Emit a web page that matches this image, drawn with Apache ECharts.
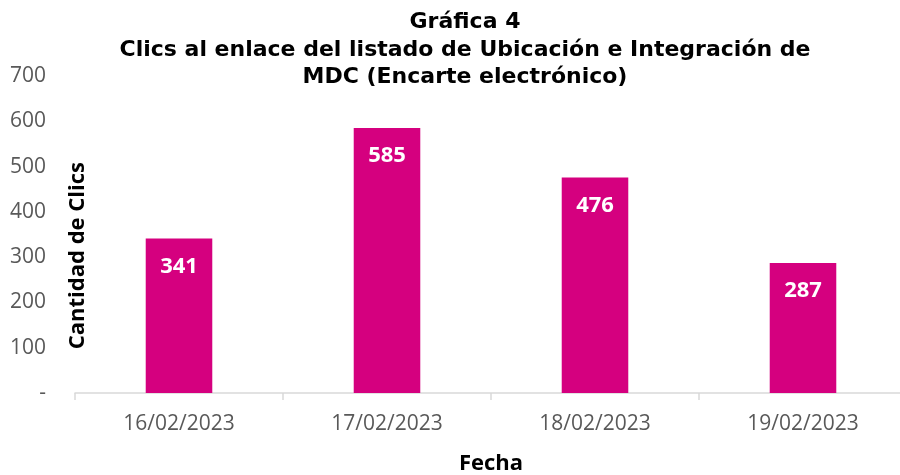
<!DOCTYPE html>
<html>
<head>
<meta charset="utf-8">
<script src="https://cdn.jsdelivr.net/npm/echarts@6/dist/echarts.min.js"></script>
<style>
  html, body { margin: 0; padding: 0; background: #fff; }
  #chart { width: 900px; height: 475px; }
</style>
</head>
<body>
<div id="chart"></div>
<script>
// datos de la gráfica
const fechas = ['16/02/2023', '17/02/2023', '18/02/2023', '19/02/2023'];
const clics = [341, 585, 476, 287];
const yTicks = [0, 100, 200, 300, 400, 500, 600, 700];

const chart = echarts.init(document.getElementById('chart'));

const option = {
  animation: false,
  title: {
    text: 'Gráfica 4\nClics al enlace del listado de Ubicación e Integración de\nMDC (Encarte electrónico)',
    left: 460,
    textAlign: 'center',
    top: 4,
    textStyle: {
      fontFamily: 'DejaVu Sans',
      fontWeight: 'bold',
      fontSize: 22,
      lineHeight: 27.5,
      color: '#000'
    }
  },
  grid: {
    left: 75,
    right: -7,
    top: 76,
    bottom: 82,
    outerBoundsMode: 'none'
  },
  xAxis: {
    type: 'category',
    data: fechas,
    name: 'Fecha',
    nameLocation: 'middle',
    nameGap: 60,
    nameTextStyle: {
      fontFamily: 'Open Sans',
      fontWeight: 'bold',
      fontSize: 22,
      color: '#000',
      verticalAlign: 'top'
    },
    axisLine: { lineStyle: { color: '#d9d9d9', width: 1.5 } },
    axisTick: { show: true, length: 7, lineStyle: { color: '#d9d9d9', width: 1.5 } },
    axisLabel: {
      margin: 21,
      fontFamily: 'Open Sans',
      fontSize: 21,
      color: '#595959'
    }
  },
  yAxis: {
    type: 'value',
    min: yTicks[0],
    max: yTicks[yTicks.length - 1],
    interval: 100,
    axisLine: { show: false },
    axisTick: { show: false },
    splitLine: { show: false },
    axisLabel: {
      margin: 29,
      fontFamily: 'Open Sans',
      fontSize: 21,
      color: '#595959',
      formatter: v => (v === 0 ? '-' : String(v))
    }
  },
  graphic: [{
    type: 'text',
    left: 67,
    top: 162,
    rotation: Math.PI / 2,
    style: {
      text: 'Cantidad de Clics',
      font: 'bold 22px "Open Sans"',
      fill: '#000'
    }
  }],
  series: [{
    type: 'bar',
    data: clics,
    barWidth: '32%',
    itemStyle: { color: '#D5007F' },
    label: {
      show: true,
      position: 'insideTop',
      distance: 17,
      fontFamily: 'Open Sans',
      fontWeight: 'bold',
      fontSize: 22,
      color: '#fff'
    }
  }]
};

chart.setOption(option);
</script>
</body>
</html>
